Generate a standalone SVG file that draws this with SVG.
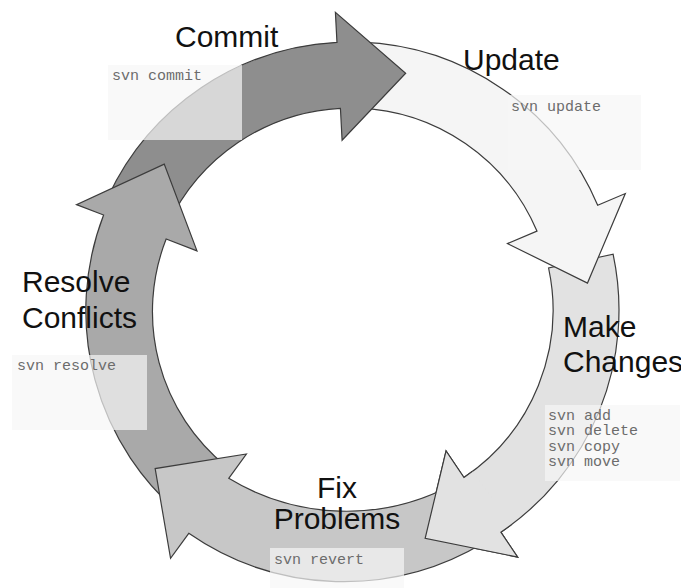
<svg xmlns="http://www.w3.org/2000/svg" xmlns:xlink="http://www.w3.org/1999/xlink" width="681" height="588" viewBox="0 0 681 588">
  <style>
    .arrow { stroke: #3c3c3c; stroke-width: 1.2; stroke-linejoin: miter; }
    .label { font-family: "Liberation Sans", Arial, Helvetica, sans-serif; font-size: 30px; fill: #111; }
    .panel { fill: #f7f7f7; fill-opacity: 0.7; }
    .cmd { font-family: "Liberation Mono", "Courier New", monospace; font-size: 15px; fill: #6c6c6c; }
  </style>
  <defs>
    <!-- wedge round the Make Changes arrowhead, so the head can sit over the Fix Problems tail -->
    <clipPath id="make-head-wedge">
      <polygon points="351,310 593,632 448,690"/>
    </clipPath>
  </defs>

  <rect width="681" height="588" fill="#ffffff"/>

  <!-- the five curved arrows of the work cycle, centred on (351,310) -->
  <g id="cycle-arrows">
    <path id="arrow-make" class="arrow" fill="#e2e2e2"
          d="M613.14,254.28 A268,268 0 0 1 500.86,532.18 L517.64,557.05 L425.16,538.25 L446.06,450.94 L463.96,477.47 A202,202 0 0 0 548.59,268.00 Z"/>
    <path id="arrow-update" class="arrow" fill="#f5f5f5"
          d="M360.35,42.16 A268,268 0 0 1 597.69,205.28 L625.31,193.56 L587.47,283.06 L507.49,243.58 L536.94,231.07 A202,202 0 0 0 358.05,108.12 Z"/>
    <path id="arrow-commit" class="arrow" fill="#8e8e8e"
          d="M108.11,196.74 A268,268 0 0 1 336.97,42.37 L335.40,12.41 L405.66,73.23 L342.10,140.23 L340.43,108.28 A202,202 0 0 0 167.93,224.63 Z"/>
    <path id="arrow-resolve" class="arrow" fill="#a9a9a9"
          d="M185.41,518.17 A266,266 0 0 1 103.60,215.03 L76.53,204.64 L164.24,164.09 L196.96,250.87 L166.15,239.04 A199,199 0 0 0 226.50,466.52 Z"/>
    <path id="arrow-fix" class="arrow" fill="#c7c7c7"
          d="M485.00,542.10 A272,272 0 0 1 188.77,533.29 L170.55,558.37 L155.16,468.59 L246.37,454.01 L228.74,478.28 A226,226 0 0 0 452.00,484.94 Z"/>
    <!-- Make Changes head drawn again on top to close the loop of overlaps -->
    <use xlink:href="#arrow-make" href="#arrow-make" clip-path="url(#make-head-wedge)"/>
  </g>

  <g id="commit">
    <text class="label" x="175" y="47">Commit</text>
    <rect class="panel" x="108" y="65" width="134" height="75"/>
    <text class="cmd" x="112" y="80">svn commit</text>
  </g>

  <g id="update">
    <text class="label" x="463" y="70">Update</text>
    <rect class="panel" x="508" y="95" width="133" height="75"/>
    <text class="cmd" x="511" y="111">svn update</text>
  </g>

  <g id="make-changes">
    <text class="label" x="563" y="337">Make</text>
    <text class="label" x="563" y="372">Changes</text>
    <rect class="panel" x="545" y="405" width="135" height="76"/>
    <text class="cmd" x="548" y="420">svn add</text>
    <text class="cmd" x="548" y="435.3">svn delete</text>
    <text class="cmd" x="548" y="450.6">svn copy</text>
    <text class="cmd" x="548" y="465.9">svn move</text>
  </g>

  <g id="fix-problems">
    <text class="label" x="337" y="498" text-anchor="middle">Fix</text>
    <text class="label" x="337" y="529" text-anchor="middle">Problems</text>
    <rect class="panel" x="270" y="548" width="134" height="45"/>
    <text class="cmd" x="274" y="564">svn revert</text>
  </g>

  <g id="resolve-conflicts">
    <text class="label" x="22" y="292">Resolve</text>
    <text class="label" x="22" y="328">Conflicts</text>
    <rect class="panel" x="12" y="355" width="135" height="75"/>
    <text class="cmd" x="17" y="370">svn resolve</text>
  </g>
</svg>
